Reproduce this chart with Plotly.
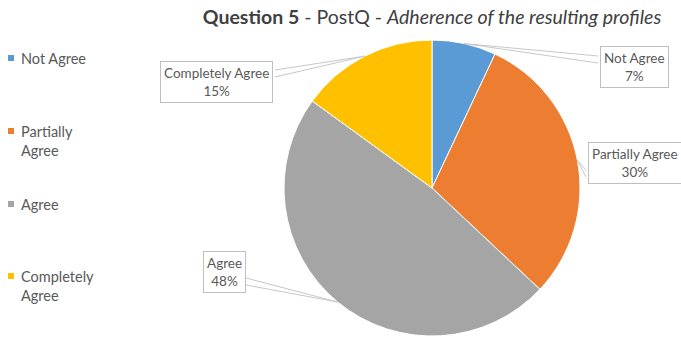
import math
import plotly.graph_objects as go

categories = ["Not Agree", "Partially Agree", "Agree", "Completely Agree"]
legend_labels = ["Not Agree", "Partially<br>Agree", "Agree", "Completely<br>Agree"]
values = [7, 30, 48, 15]
colors = ["#5B9BD5", "#ED7D31", "#A5A5A5", "#FFC000"]

W, H = 681, 337
cx, cy, r = 432, 188, 148  # pie centre and radius in pixels

def px(x):
    return x / W

def py(y):
    return 1 - y / H

fig = go.Figure(go.Pie(
    labels=categories, values=values, sort=False, direction="clockwise",
    rotation=0, textinfo="none", hoverinfo="label+percent",
    marker=dict(colors=colors, line=dict(color="white", width=1)),
    domain=dict(x=[px(cx - r), px(cx + r)], y=[py(cy + r), py(cy - r)]),
    showlegend=False,
))

# callout boxes: centre and the box edge the leader attaches to (pixels)
callouts = {
    "Not Agree": dict(pos=(634.5, 66.5), edge=((598, 56), (598, 63))),
    "Partially Agree": dict(pos=(635, 162.5), edge=((586, 170), (586, 177))),
    "Agree": dict(pos=(224.5, 271.5), edge=((246, 278), (246, 285))),
    "Completely Agree": dict(pos=(216, 82.5), edge=((275, 70), (275, 77))),
}

total = sum(values)
cum = 0
shapes = []
annotations = []
for cat, v in zip(categories, values):
    mid = (cum + v / 2) / total * 2 * math.pi
    cum += v
    tipx = cx + r * math.sin(mid)
    tipy = cy - r * math.cos(mid)
    c = callouts[cat]
    (ax, ay), (bx, by) = c["edge"]
    path = (f"M {px(ax)} {py(ay)} L {px(tipx)} {py(tipy)} "
            f"L {px(bx)} {py(by)}")
    shapes.append(dict(type="path", xref="paper", yref="paper", path=path,
                       line=dict(color="#C8C8C8", width=1)))
    annotations.append(dict(
        x=px(c["pos"][0]), y=py(c["pos"][1]), xref="paper", yref="paper",
        text=f"{cat}<br>{round(v / total * 100)}%", showarrow=False,
        xanchor="center", yanchor="middle", align="center",
        font=dict(family="Lato", size=13.5, color="#595959"),
        bgcolor="white", bordercolor="#BFBFBF", borderwidth=1, borderpad=3,
    ))

# legend drawn at fixed rows
legend_rows = [58, 131, 204, 276]
for lab, col, y in zip(legend_labels, colors, legend_rows):
    shapes.append(dict(type="rect", xref="paper", yref="paper",
                       x0=px(8), x1=px(14), y0=py(y + 3), y1=py(y - 3),
                       fillcolor=col, line=dict(width=0)))
    annotations.append(dict(
        x=px(19), y=py(y - 10), xref="paper", yref="paper", text=lab,
        showarrow=False, xanchor="left", yanchor="top", align="left",
        font=dict(family="Lato", size=14.5, color="#595959"),
    ))

fig.update_layout(
    width=W, height=H, margin=dict(l=0, r=0, t=0, b=0),
    paper_bgcolor="white", plot_bgcolor="white",
    title=dict(
        text="<b>Question 5</b> - PostQ - <i>Adherence of the resulting profiles</i>",
        x=px(432), xanchor="center", y=py(17), yanchor="middle",
        font=dict(family="Lato", size=19.5, color="#404040"),
    ),
    shapes=shapes, annotations=annotations,
)

fig.write_html("out.html")
